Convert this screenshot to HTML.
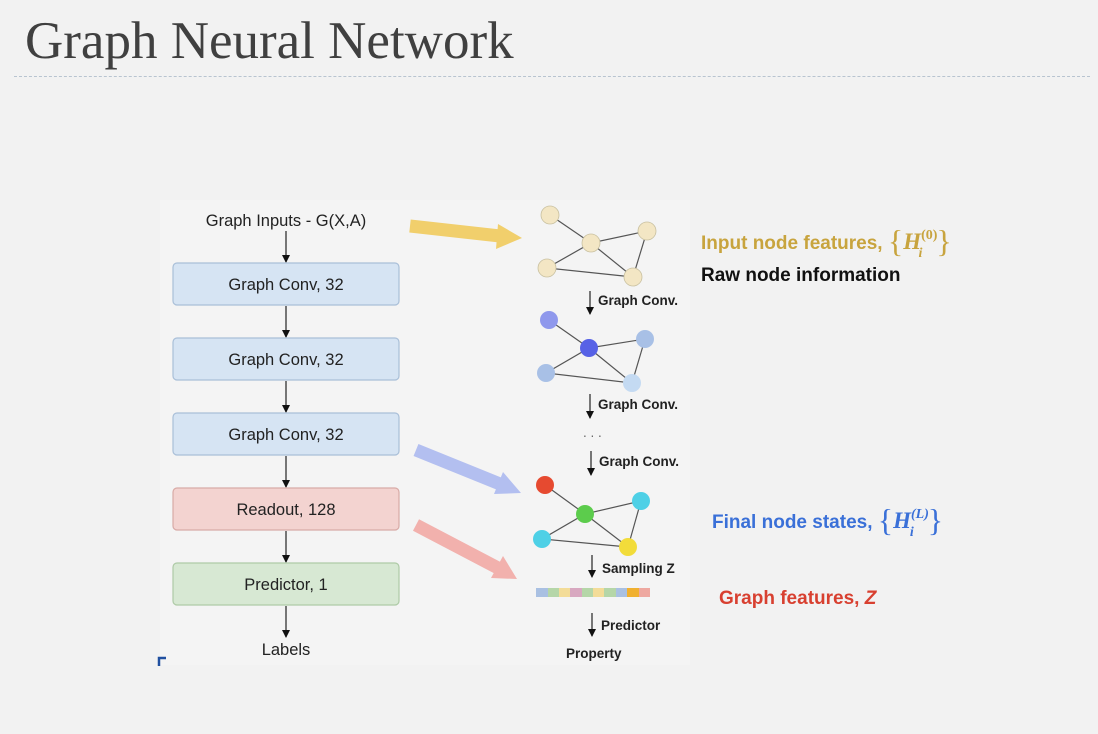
<!DOCTYPE html>
<html><head><style>
body{margin:0;width:1098px;height:734px;background:#f2f2f2;overflow:hidden;font-family:"Liberation Sans",sans-serif;position:relative}
</style></head><body>
<div style="position:absolute;left:25px;top:11px;font-family:'Liberation Serif',serif;font-size:53px;color:#404040">Graph Neural Network</div>
<div style="position:absolute;left:14px;right:8px;top:76px;border-top:1.5px dashed #b8c4d0"></div>
<svg width="1098" height="734" style="position:absolute;left:0;top:0" font-family="Liberation Sans, sans-serif">
<defs><marker id="a" markerWidth="8" markerHeight="8" refX="7" refY="4" orient="auto" markerUnits="userSpaceOnUse"><path d="M0,0L8,4L0,8z" fill="#111"/></marker></defs>
<rect x="160" y="200" width="530" height="465" fill="#f4f4f4"/>
<text x="286" y="226" font-size="16.5" text-anchor="middle" fill="#222">Graph Inputs - G(X,A)</text>
<g stroke="#222" stroke-width="1.2" marker-end="url(#a)">
<line x1="286" y1="231" x2="286" y2="262"/><line x1="286" y1="306" x2="286" y2="337"/><line x1="286" y1="381" x2="286" y2="412"/><line x1="286" y1="456" x2="286" y2="487"/><line x1="286" y1="531" x2="286" y2="562"/><line x1="286" y1="606" x2="286" y2="637"/>
</g>
<g stroke-width="1.2">
<rect x="173" y="263" width="226" height="42" rx="4" fill="#d6e4f3" stroke="#a9bfd8"/>
<rect x="173" y="338" width="226" height="42" rx="4" fill="#d6e4f3" stroke="#a9bfd8"/>
<rect x="173" y="413" width="226" height="42" rx="4" fill="#d6e4f3" stroke="#a9bfd8"/>
<rect x="173" y="488" width="226" height="42" rx="4" fill="#f3d3d0" stroke="#d8aaa6"/>
<rect x="173" y="563" width="226" height="42" rx="4" fill="#d7e8d3" stroke="#aecaa6"/>
</g>
<g font-size="16.5" text-anchor="middle" fill="#222">
<text x="286" y="290">Graph Conv, 32</text><text x="286" y="365">Graph Conv, 32</text><text x="286" y="440">Graph Conv, 32</text><text x="286" y="515">Readout, 128</text><text x="286" y="590">Predictor, 1</text><text x="286" y="655">Labels</text>
</g>
<path d="M159,666V658H166" stroke="#2050a0" stroke-width="2.5" fill="none"/>
<g stroke-width="13" stroke-linecap="butt">
<line x1="410" y1="226" x2="500" y2="236" stroke="#f1cf6c"/>
<line x1="416" y1="450" x2="500" y2="484" stroke="#b3bff0"/>
<line x1="416" y1="525" x2="498" y2="568" stroke="#f2b1ad"/>
</g>
<path d="M498,224L522,238L496,249z" fill="#f1cf6c"/>
<path d="M503,472L521,493L494,494z" fill="#b3bff0"/>
<path d="M503,556L517,579L491,578z" fill="#f2b1ad"/>
<g stroke="#555" stroke-width="1.2" fill="none">
<path d="M550,215L591,243L647,231L633,277L591,243L547,268L633,277"/>
<path d="M549,320L589,348L645,339L632,383L589,348L546,373L632,383"/>
<path d="M545,485L585,514L641,501L628,547L585,514L542,539L628,547"/>
</g>
<g stroke="#c8c0a0" stroke-width="0.8" fill="#f3e6c4">
<circle cx="550" cy="215" r="9"/><circle cx="591" cy="243" r="9"/><circle cx="647" cy="231" r="9"/><circle cx="547" cy="268" r="9"/><circle cx="633" cy="277" r="9"/>
</g>
<circle cx="549" cy="320" r="9" fill="#8f98ec"/><circle cx="589" cy="348" r="9" fill="#5762e6"/><circle cx="645" cy="339" r="9" fill="#a8c0e6"/><circle cx="546" cy="373" r="9" fill="#a8c0e6"/><circle cx="632" cy="383" r="9" fill="#c4daf2"/>
<circle cx="545" cy="485" r="9" fill="#e64a30"/><circle cx="585" cy="514" r="9" fill="#5ccc4c"/><circle cx="641" cy="501" r="9" fill="#4ed0e6"/><circle cx="542" cy="539" r="9" fill="#4ed0e6"/><circle cx="628" cy="547" r="9" fill="#f2dc3a"/>
<g fill="#222" font-size="13.5" font-weight="bold">
<text x="598" y="305">Graph Conv.</text><text x="598" y="409">Graph Conv.</text><text x="599" y="466">Graph Conv.</text><text x="602" y="573">Sampling Z</text><text x="601" y="630">Predictor</text><text x="566" y="658">Property</text>
<text x="583" y="437" font-weight="normal" fill="#666">. . .</text>
</g>
<g stroke="#222" stroke-width="1.2" marker-end="url(#a)">
<line x1="590" y1="291" x2="590" y2="314"/><line x1="590" y1="394" x2="590" y2="418"/><line x1="591" y1="451" x2="591" y2="475"/><line x1="592" y1="555" x2="592" y2="577"/><line x1="592" y1="613" x2="592" y2="636"/>
</g>
<g>
<rect x="536" y="588" width="12" height="9" fill="#a9c0e2"/><rect x="548" y="588" width="11" height="9" fill="#b5d6a8"/><rect x="559" y="588" width="11" height="9" fill="#f3dc98"/><rect x="570" y="588" width="12" height="9" fill="#d8a8c0"/><rect x="582" y="588" width="11" height="9" fill="#b5d6a8"/><rect x="593" y="588" width="11" height="9" fill="#f3dc98"/><rect x="604" y="588" width="12" height="9" fill="#b5d6a8"/><rect x="616" y="588" width="11" height="9" fill="#a9c0e2"/><rect x="627" y="588" width="12" height="9" fill="#f0b030"/><rect x="639" y="588" width="11" height="9" fill="#eea8a0"/>
</g>
<g font-size="19" font-weight="bold">
<text x="701" y="249" fill="#c8a43e">Input node features, <tspan font-family="Liberation Serif, serif" font-weight="normal" font-size="32" dy="3">{</tspan><tspan font-family="Liberation Serif, serif" font-style="italic" font-size="23" dy="-3">H</tspan><tspan font-family="Liberation Serif, serif" font-size="14" dy="-10">(0)</tspan><tspan font-family="Liberation Serif, serif" font-size="14" font-style="italic" dx="-19" dy="18">i</tspan><tspan font-family="Liberation Serif, serif" font-weight="normal" font-size="32" dx="14" dy="-5">}</tspan></text>
<text x="701" y="281" fill="#111">Raw node information</text>
<text x="712" y="528" fill="#3a70d8">Final node states, <tspan font-family="Liberation Serif, serif" font-weight="normal" font-size="32" dy="3">{</tspan><tspan font-family="Liberation Serif, serif" font-style="italic" font-size="23" dy="-3">H</tspan><tspan font-family="Liberation Serif, serif" font-size="14" font-style="italic" dy="-10">(L)</tspan><tspan font-family="Liberation Serif, serif" font-size="14" font-style="italic" dx="-19" dy="18">i</tspan><tspan font-family="Liberation Serif, serif" font-weight="normal" font-size="32" dx="14" dy="-5">}</tspan></text>
<text x="719" y="604" fill="#d84030">Graph features, <tspan font-style="italic">Z</tspan></text>
</g>
</svg>
</body></html>
